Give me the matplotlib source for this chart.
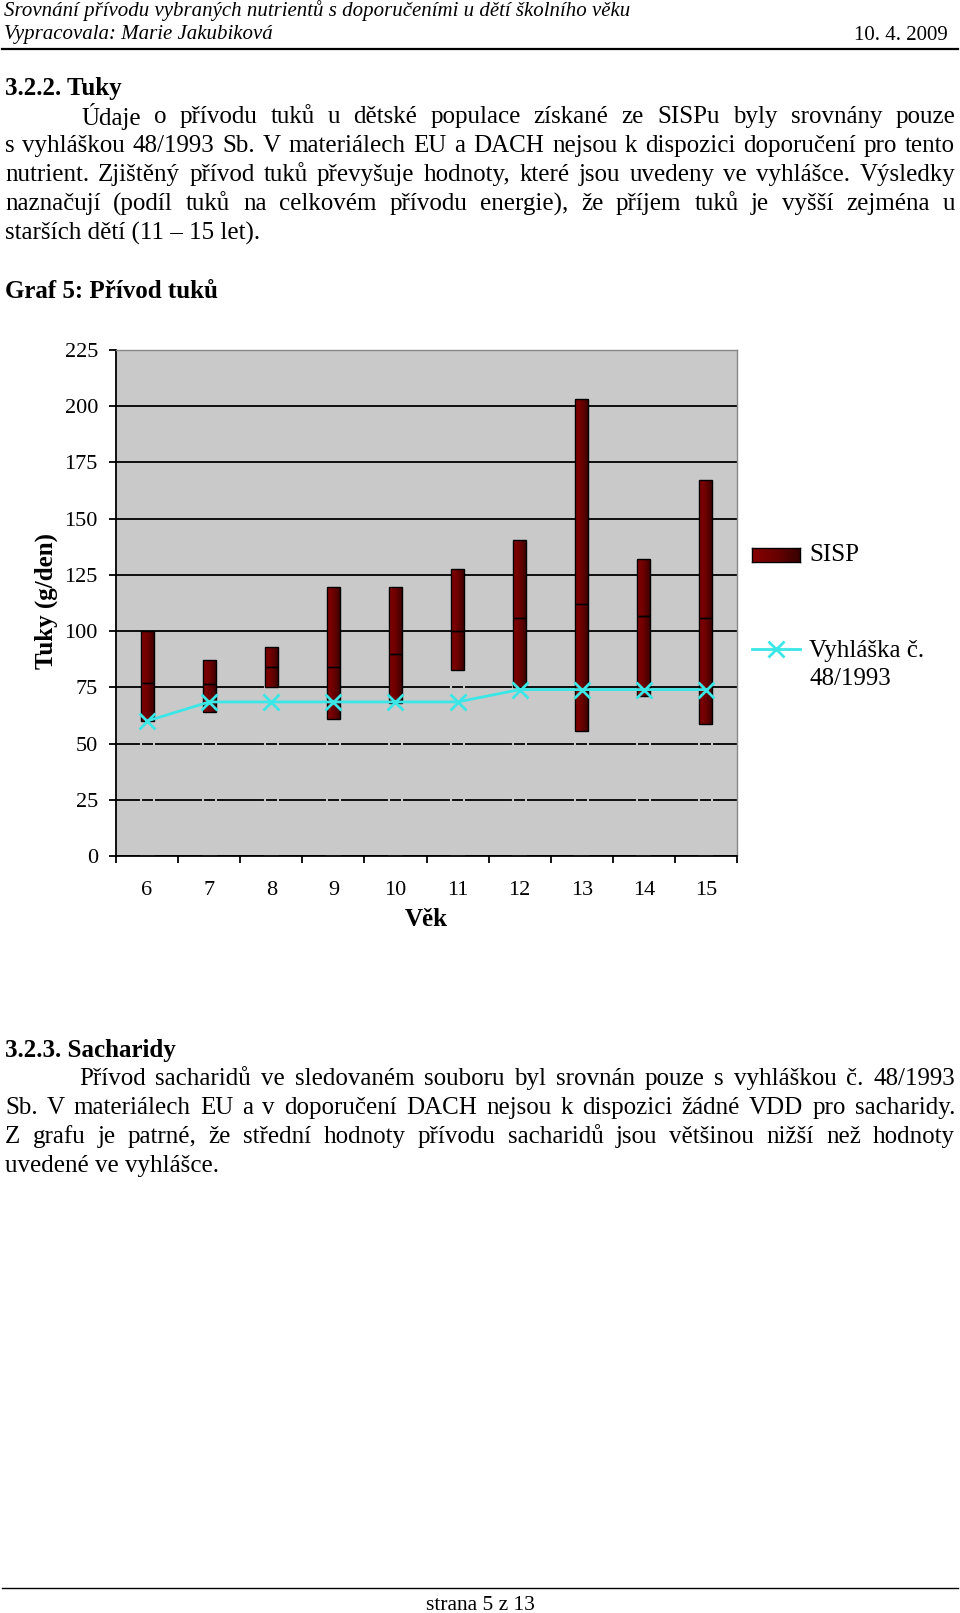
import numpy as np
import matplotlib
matplotlib.use('Agg')
import matplotlib.pyplot as plt
from matplotlib.colors import LinearSegmentedColormap
from matplotlib.lines import Line2D

# Page size in pixels (figure is 100 dpi)
W, H = 960, 1613

# Chart data: fat intake (g/day) by age
ages = ['6', '7', '8', '9', '10', '11', '12', '13', '14', '15']
sisp_min = [60, 64, 75, 61, 68, 82.5, 75, 55.5, 71, 58.5]
sisp_median = [77, 76.5, 84, 84, 90, 100, 106, 112, 106.5, 106]
sisp_max = [100, 87, 93, 119.5, 119.5, 127.5, 140.5, 203, 132, 167]
vyhlaska = [60, 68.5, 68.5, 68.5, 68.5, 68.5, 74, 74, 74, 74]
y_ticks = [0, 25, 50, 75, 100, 125, 150, 175, 200, 225]

# Page texts
header_title = 'Srovnání přívodu vybraných nutrientů s doporučeními u dětí školního věku'
header_author = 'Vypracovala: Marie Jakubiková'
header_date = '10. 4. 2009'
heading_fat = '3.2.2. Tuky'
para_fat = [
    'Údaje o přívodu tuků u dětské populace získané ze SISPu byly srovnány pouze',
    's vyhláškou 48/1993 Sb. V materiálech EU a DACH nejsou k dispozici doporučení pro tento',
    'nutrient. Zjištěný přívod tuků převyšuje hodnoty, které jsou uvedeny ve vyhlášce. Výsledky',
    'naznačují (podíl tuků na celkovém přívodu energie), že příjem tuků je vyšší zejména u',
    'starších dětí (11 – 15 let).',
]
chart_title = 'Graf 5: Přívod tuků'
heading_carb = '3.2.3. Sacharidy'
para_carb = [
    'Přívod sacharidů ve sledovaném souboru byl srovnán pouze s vyhláškou č. 48/1993',
    'Sb. V materiálech EU a  v doporučení DACH nejsou k dispozici žádné VDD pro sacharidy.',
    'Z grafu je patrné, že střední hodnoty přívodu sacharidů jsou většinou nižší než hodnoty',
    'uvedené ve vyhlášce.',
]
footer = 'strana 5 z 13'

plt.rcParams['font.family'] = ['Liberation Serif', 'DejaVu Serif']

fig = plt.figure(figsize=(W / 100, H / 100), dpi=100)
renderer = fig.canvas.get_renderer()


def fx(x):
    return x / W


def fy(y):
    return 1 - y / H


def put(x, y, s, **kw):
    kw.setdefault('va', 'center')
    return fig.text(fx(x), fy(y), s, **kw)


def justified(x0, x1, y, line, **kw):
    # spread the words of one line across x0..x1
    words = line.split()
    texts = [put(0, y, w, **kw) for w in words]
    widths = [t.get_window_extent(renderer).width for t in texts]
    gap = (x1 - x0 - sum(widths)) / max(len(words) - 1, 1)
    x = x0
    for t, w in zip(texts, widths):
        t.set_x(fx(x))
        x += w + gap


def paragraph(lines, y0, indent, step=29):
    for i, line in enumerate(lines):
        x0 = indent if i == 0 else 5
        y = y0 + i * step
        if i < len(lines) - 1:
            justified(x0, 955, y, line, fontsize=18)
        else:
            put(x0, y, line, fontsize=18)


# header and footer
put(4, 11, header_title, fontsize=15, style='italic')
put(4, 35, header_author, fontsize=15, style='italic')
put(948, 35, header_date, fontsize=15, ha='right')
fig.add_artist(Line2D([fx(2), fx(958)], [fy(49), fy(49)], color='black', lw=1.6))
fig.add_artist(Line2D([fx(2), fx(958)], [fy(1588), fy(1588)], color='black', lw=1))
put(480, 1605, footer, fontsize=15.5, ha='center')

# texts
put(5, 88, heading_fat, fontsize=18, weight='bold')
paragraph(para_fat, 117, 81)
put(5, 291, chart_title, fontsize=18, weight='bold')
put(5, 1050, heading_carb, fontsize=18, weight='bold')
paragraph(para_carb, 1079, 79)

# chart
ax = fig.add_axes([fx(116), fy(856), (737 - 116) / W, (856 - 350) / H])
ax.set_facecolor('#c9c9c9')
x = np.arange(len(ages))
bw = 0.21

# hidden lower part (only its edges break the gridlines)
ax.bar(x, sisp_min, width=bw, facecolor='none', edgecolor='#c9c9c9', lw=1.5, zorder=2)

low = ax.bar(x, np.subtract(sisp_median, sisp_min), bottom=sisp_min, width=bw,
             facecolor='none', edgecolor='black', lw=1, zorder=4)
high = ax.bar(x, np.subtract(sisp_max, sisp_median), bottom=sisp_median, width=bw,
              facecolor='none', edgecolor='black', lw=1, zorder=4)

bar_cmap = LinearSegmentedColormap.from_list('sisp', ['#880000', '#6a0000', '#380000'])
grad = np.linspace(0, 1, 64).reshape(1, -1)
for p in list(low) + list(high):
    x0, y0 = p.get_x(), p.get_y()
    im = ax.imshow(grad, extent=[x0, x0 + p.get_width(), y0, y0 + p.get_height()],
                   cmap=bar_cmap, aspect='auto', interpolation='bilinear', zorder=3)
    im.set_clip_path(p)

ax.plot(x, vyhlaska, color='#3ae6e6', lw=2, marker='x', ms=11, mew=2, zorder=5,
        clip_on=False)

ax.set_xlim(-0.5, len(ages) - 0.5)
ax.set_ylim(0, 225)
ax.set_yticks(y_ticks)
ax.yaxis.grid(True, color='black', lw=1.3)
ax.set_axisbelow(True)
ax.set_xticks(x)
ax.set_xticklabels(ages)
ax.set_xticks(np.arange(-0.5, len(ages), 1), minor=True)
ax.tick_params(axis='x', which='major', length=0, pad=18, labelsize=16)
ax.tick_params(axis='x', which='minor', length=5, width=1.3, direction='out')
ax.tick_params(axis='y', length=5, width=1.3, pad=8, labelsize=16)
for side in ['left', 'bottom']:
    ax.spines[side].set_color('black')
    ax.spines[side].set_linewidth(1.3)
for side in ['top', 'right']:
    ax.spines[side].set_color('#888888')
    ax.spines[side].set_linewidth(1)

put(46, 601, 'Tuky (g/den)', fontsize=18, weight='bold', rotation=90, ha='center')
put(426, 919, 'Věk', fontsize=18, weight='bold', ha='center')

# legend, drawn by hand
sw = fig.add_axes([fx(752), fy(562), 48 / W, 14 / H])
sw.imshow(grad, cmap=bar_cmap, aspect='auto', interpolation='bilinear')
sw.set_xticks([])
sw.set_yticks([])
for s in sw.spines.values():
    s.set_linewidth(1)
put(809, 555, 'SISP', fontsize=18)
fig.add_artist(Line2D([fx(752), fx(800)], [fy(649), fy(649)], color='#3ae6e6', lw=2))
fig.add_artist(Line2D([fx(776)], [fy(649)], color='#3ae6e6', marker='x', ms=11, mew=2))
put(809, 665, 'Vyhláška č.\n48/1993', fontsize=18, linespacing=1.35)

fig.savefig('out.png', dpi=100)
